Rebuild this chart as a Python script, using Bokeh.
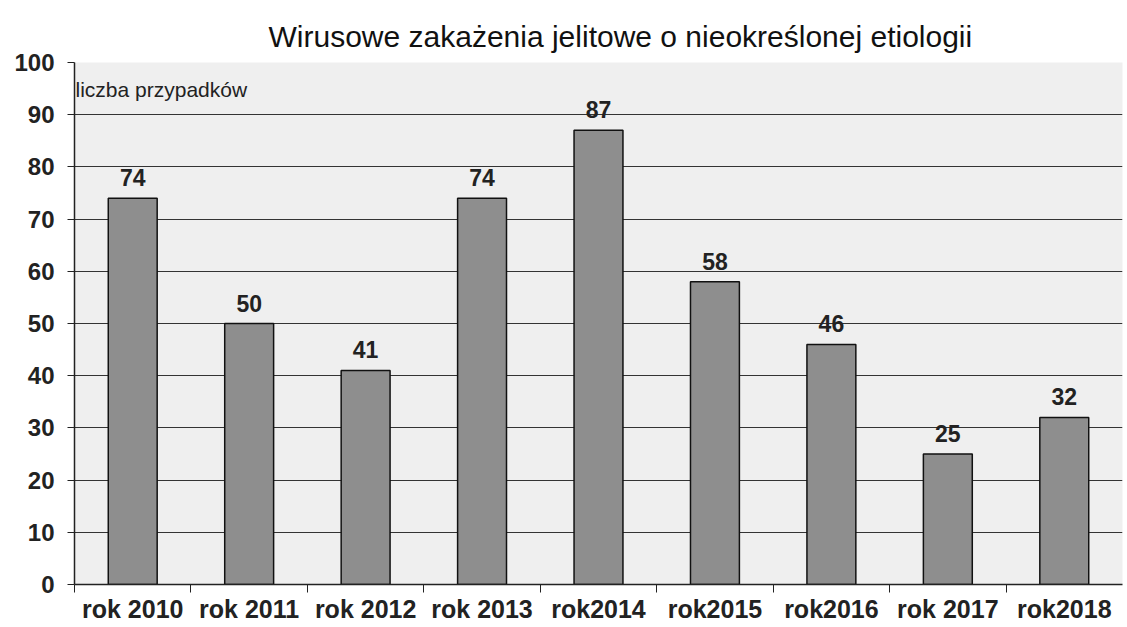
from bokeh.plotting import figure
from bokeh.models import Range1d, FixedTicker, ColumnDataSource, LabelSet, Label
from bokeh.core.properties import value
from bokeh.embed import file_html
from bokeh.resources import INLINE

categories = ["rok 2010", "rok 2011", "rok 2012", "rok 2013", "rok2014",
              "rok2015", "rok2016", "rok 2017", "rok2018"]
values = [74, 50, 41, 74, 87, 58, 46, 25, 32]
y_ticks = [0, 10, 20, 30, 40, 50, 60, 70, 80, 90, 100]
title = "Wirusowe zakażenia jelitowe o nieokreślonej etiologii"
y_label = "liczba przypadków"

pos = list(range(1, len(categories) + 1))
src = ColumnDataSource(dict(x=pos, top=values, lab=[str(v) for v in values]))

p = figure(width=1124, height=625, output_backend="svg", toolbar_location=None,
           x_range=Range1d(0.5, len(categories) + 0.5), y_range=Range1d(0, 100),
           min_border_left=74, min_border_right=2, min_border_bottom=40, min_border_top=62,
           title=title)
p.title.align = "left"
p.title.text_font = "Liberation Sans"
p.title.text_font_size = "30px"
p.title.text_font_style = "normal"
p.title.text_color = "#111111"
p.title.offset = 194
p.title.standoff = 20

p.background_fill_color = "#efefef"
p.border_fill_color = "white"
p.outline_line_color = None

p.vbar(x="x", top="top", width=0.42, bottom=0, source=src,
       fill_color="#8e8e8e", line_color="#111111", line_width=1.5)

p.add_layout(LabelSet(x="x", y="top", text="lab", source=src, text_align="center",
                      text_baseline="bottom", y_offset=12, text_font=value("Liberation Sans"),
                      text_font_size=value("23px"), text_font_style="bold", text_color="#222222"))
p.add_layout(Label(x=0.5, y=100, x_offset=1, y_offset=-27, text=y_label,
                   text_font="Liberation Sans", text_font_size="21px", text_color="#222222",
                   text_baseline="middle"))

p.yaxis.ticker = FixedTicker(ticks=y_ticks)
p.yaxis.minor_tick_line_color = None
p.yaxis.major_tick_in = 0
p.yaxis.major_tick_out = 7
p.yaxis.axis_line_color = "#222222"
p.yaxis.axis_line_width = 1.5
p.yaxis.major_tick_line_color = "#222222"
p.yaxis.major_label_text_font = "Liberation Sans"
p.yaxis.major_label_text_font_size = "24px"
p.yaxis.major_label_text_font_style = "bold"
p.yaxis.major_label_text_color = "#222222"
p.yaxis.major_label_standoff = 13

bounds = [i + 0.5 for i in range(0, len(categories))]
p.xaxis.ticker = FixedTicker(ticks=pos, minor_ticks=bounds)
p.xaxis.major_label_overrides = {i: c for i, c in zip(pos, categories)}
p.xaxis.major_tick_line_color = None
p.xaxis.minor_tick_line_color = "#222222"
p.xaxis.minor_tick_in = 0
p.xaxis.minor_tick_out = 8
p.xaxis.axis_line_color = "#222222"
p.xaxis.axis_line_width = 1.5
p.xaxis.major_label_text_font = "Liberation Sans"
p.xaxis.major_label_text_font_size = "25px"
p.xaxis.major_label_text_font_style = "bold"
p.xaxis.major_label_text_color = "#222222"
p.xaxis.major_label_standoff = 2

p.xgrid.grid_line_color = None
p.ygrid.ticker = FixedTicker(ticks=y_ticks)
p.ygrid.grid_line_color = "#333333"
p.ygrid.grid_line_width = 1

open("out.html", "w").write(file_html(p, INLINE))
